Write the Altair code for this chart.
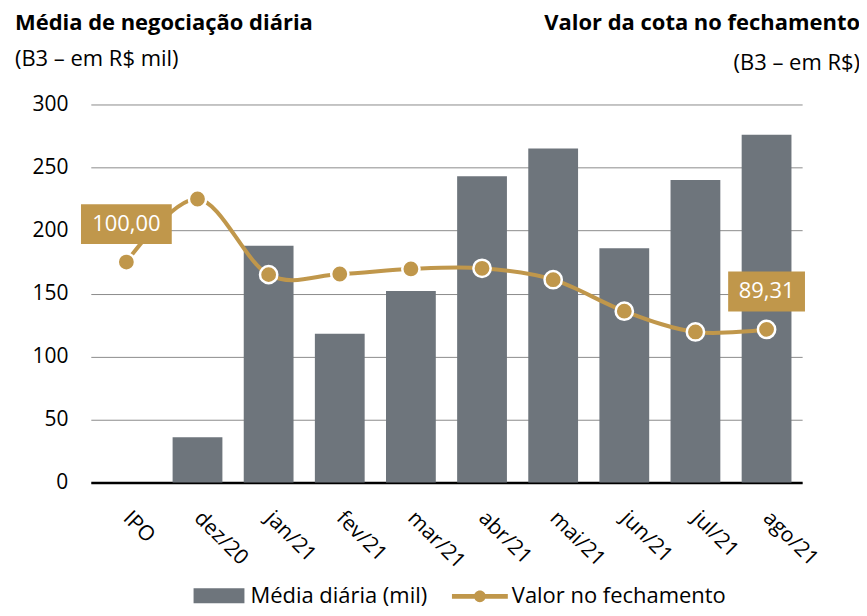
import altair as alt
import pandas as pd

categorias = ["IPO", "dez/20", "jan/21", "fev/21", "mar/21", "abr/21", "mai/21", "jun/21", "jul/21", "ago/21"]
media_diaria = [0, 36, 188, 118, 152, 243, 265, 186, 240, 276]
valor_cota = [100.00, 110.0, 98.0, 98.1, 98.9, 99.0, 97.2, 92.2, 88.9, 89.31]
rotulos = {"IPO": "100,00", "ago/21": "89,31"}

GOLD = "#C0974B"
GRAY = "#6E757C"
FONT = "Open Sans"

df = pd.DataFrame({
    "cat": categorias,
    "media": media_diaria,
    "valor": valor_cota,
    "s1": "Média diária (mil)",
    "s2": "Valor no fechamento",
})
df["rotulo"] = df["cat"].map(rotulos).fillna("")

base = alt.Chart(df)
xenc = alt.X("cat:N", sort=categorias,
             scale=alt.Scale(paddingInner=0.3, paddingOuter=0.15),
             axis=alt.Axis(title=None, labelAngle=45, labelAlign="left", labelBaseline="middle",
                           labelFontSize=21, labelFont=FONT, labelColor="#000", labelPadding=32,
                           ticks=False, domain=True, domainColor="#000", domainWidth=2.5,
                           labelOverlap=False))

bars = base.mark_bar(color=GRAY).encode(
    x=xenc,
    y=alt.Y("media:Q", scale=alt.Scale(domain=[0, 300]),
            axis=alt.Axis(title=None, values=[0, 50, 100, 150, 200, 250, 300], grid=True,
                          gridColor="#8c8c8c", gridWidth=1, ticks=False, domain=False,
                          labelFontSize=21, labelFont=FONT, labelColor="#000", labelPadding=23)),
    color=alt.Color("s1:N", scale=alt.Scale(domain=["Média diária (mil)"], range=[GRAY]),
                    legend=alt.Legend(title=None, orient="none", legendX=103, legendY=467,
                                      padding=0, symbolType="M-1,-0.294H1V0.294H-1Z", symbolSize=2601,
                                      symbolStrokeWidth=0, labelFontSize=22, labelFont=FONT,
                                      labelColor="#000", labelOffset=6, labelLimit=500)),
)

yright = alt.Y("valor:Q", scale=alt.Scale(domain=[65, 125]),
               axis=alt.Axis(title=None, orient="right", values=list(range(65, 126, 5)), grid=False,
                             ticks=False, domain=False, labelFontSize=21, labelFont=FONT,
                             labelColor="#000", labelPadding=25))

line = base.mark_line(color=GOLD, strokeWidth=4, interpolate="cardinal").encode(
    x=alt.X("cat:N", sort=categorias), y=yright)

pts = base.mark_point(filled=True, fill=GOLD, stroke="white", strokeWidth=2.5, size=300, opacity=1).encode(
    x=alt.X("cat:N", sort=categorias), y=alt.Y("valor:Q", scale=alt.Scale(domain=[65, 125]), axis=None),
    color=alt.Color("s2:N", scale=alt.Scale(domain=["Valor no fechamento"], range=[GOLD]),
                    legend=alt.Legend(title=None, orient="none", legendX=362, legendY=465, padding=0,
                                      symbolType="M-1,-0.083H1V0.083H-1Z M0.21,0A0.21,0.21 0 1 1 -0.21,0A0.21,0.21 0 1 1 0.21,0Z",
                                      symbolSize=3136, symbolStrokeWidth=0, labelFontSize=22,
                                      labelFont=FONT, labelColor="#000", labelOffset=4, labelLimit=500)),
)

box1 = base.transform_filter(alt.datum.cat == "IPO").mark_point(
    filled=True, color=GOLD, opacity=1, shape="M-1,-0.44H1V0.44H-1Z", size=8281, yOffset=-38).encode(
    x=alt.X("cat:N", sort=categorias), y=alt.Y("valor:Q", scale=alt.Scale(domain=[65, 125]), axis=None))
box2 = base.transform_filter(alt.datum.cat == "ago/21").mark_point(
    filled=True, color=GOLD, opacity=1, shape="M-1,-0.52H1V0.52H-1Z", size=5929, yOffset=-38).encode(
    x=alt.X("cat:N", sort=categorias), y=alt.Y("valor:Q", scale=alt.Scale(domain=[65, 125]), axis=None))
txt = base.transform_filter(alt.datum.rotulo != "").mark_text(
    color="white", fontSize=22, font=FONT, dy=-38, baseline="middle", align="center").encode(
    x=alt.X("cat:N", sort=categorias), y=alt.Y("valor:Q", scale=alt.Scale(domain=[65, 125]), axis=None),
    text="rotulo:N")

tdf = alt.Chart(pd.DataFrame({"a": [1]}))
t1 = tdf.mark_text(text="Média de negociação diária", fontWeight="bold", fontSize=22, font=FONT,
                   align="left", baseline="alphabetic", color="#000").encode(x=alt.value(-76), y=alt.value(-74.5))
t2 = tdf.mark_text(text="(B3 – em R$ mil)", fontSize=22, font=FONT,
                   align="left", baseline="alphabetic", color="#000").encode(x=alt.value(-76), y=alt.value(-38.5))
t3 = tdf.mark_text(text="Valor da cota no fechamento", fontWeight="bold", fontSize=22, font=FONT,
                   align="right", baseline="alphabetic", color="#000").encode(x=alt.value(771), y=alt.value(-74.5))
t4 = tdf.mark_text(text="(B3 – em R$)", fontSize=22, font=FONT,
                   align="right", baseline="alphabetic", color="#000").encode(x=alt.value(771), y=alt.value(-35))

right = alt.layer(line, pts, box1, box2, txt)

chart = alt.layer(bars, right, t1, t2, t3, t4).resolve_scale(
    y="independent", color="independent"
).properties(
    width=713, height=379,
    autosize=alt.AutoSizeParams(type="none"),
    padding={"left": 83, "top": 96, "right": 57, "bottom": 125},
).configure_view(stroke=None)

chart.save("out.html", embed_options={"renderer": "svg", "actions": False})
